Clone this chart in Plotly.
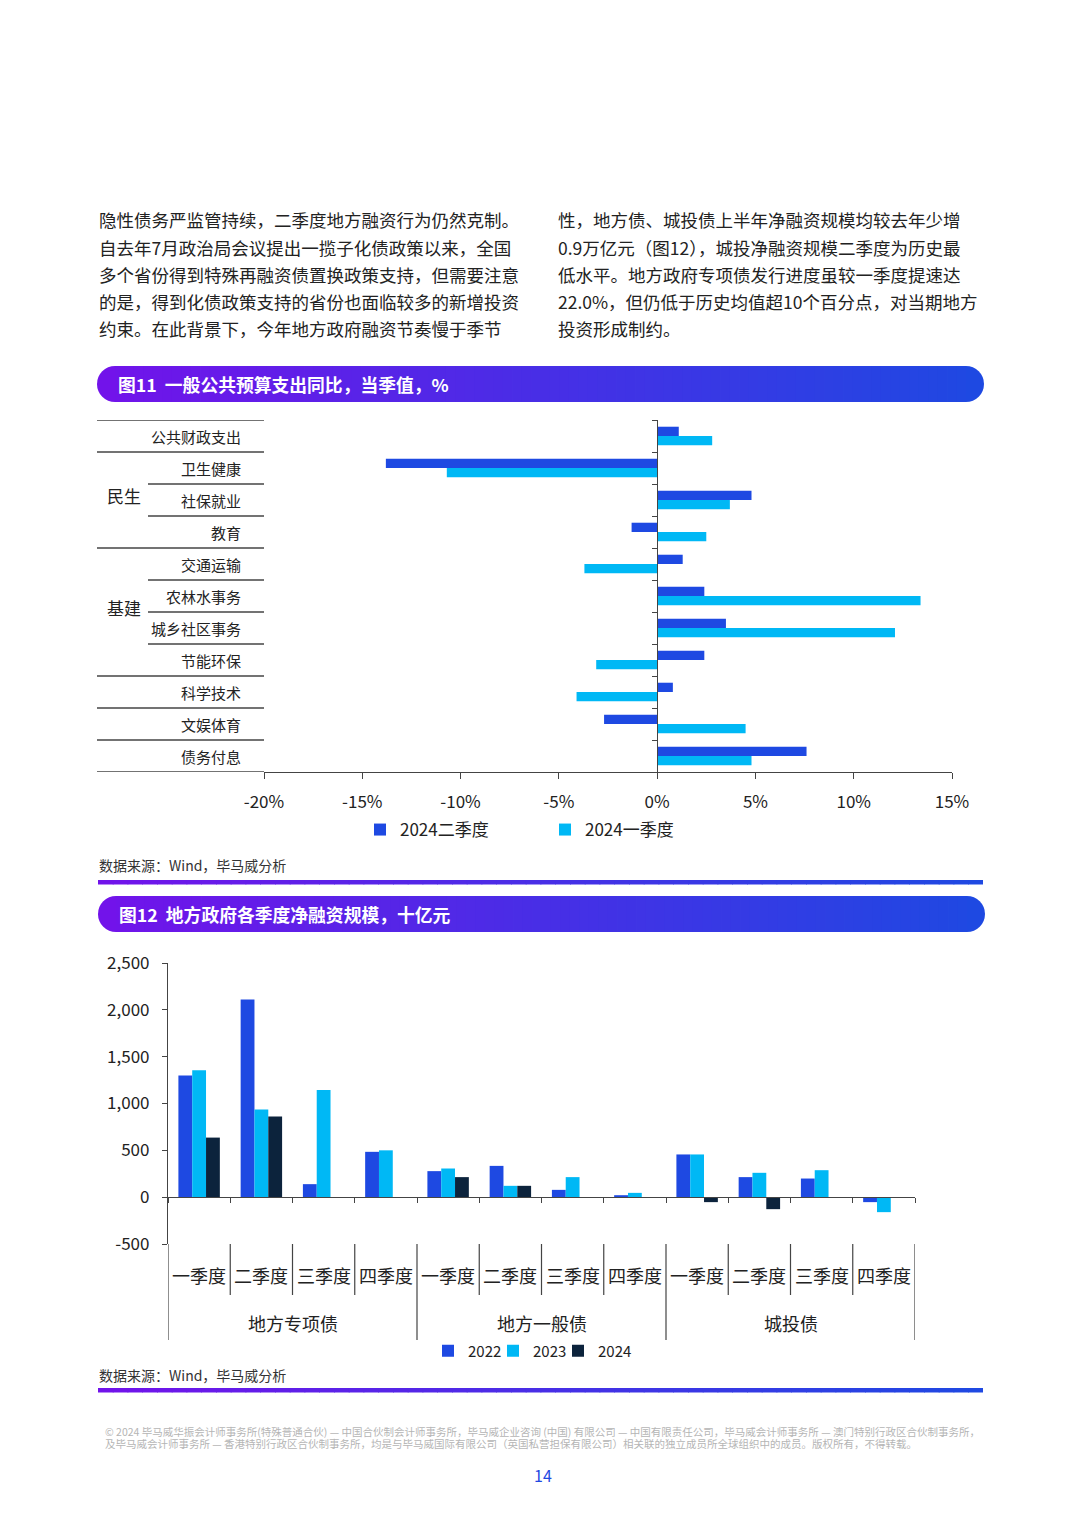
import plotly.graph_objects as go

W, H = 1080, 1516


def px(x):
    return x / W


def py(y):
    return 1 - y / H


# ---------------- Data: Figure 11 ----------------
cats11 = ["公共财政支出", "卫生健康", "社保就业", "教育", "交通运输", "农林水事务",
          "城乡社区事务", "节能环保", "科学技术", "文娱体育", "债务付息"]
q2_2024 = [1.1, -13.8, 4.8, -1.3, 1.3, 2.4, 3.5, 2.4, 0.8, -2.7, 7.6]
q1_2024 = [2.8, -10.7, 3.7, 2.5, -3.7, 13.4, 12.1, -3.1, -4.1, 4.5, 4.8]
series11_names = ["2024二季度", "2024一季度"]
x11_tickvals = [-20, -15, -10, -5, 0, 5, 10, 15]
x11_ticktext = ["-20%", "-15%", "-10%", "-5%", "0%", "5%", "10%", "15%"]
group11_names = ["民生", "基建"]
group11_members = [["卫生健康", "社保就业", "教育"],
                   ["交通运输", "农林水事务", "城乡社区事务", "节能环保"]]

# ---------------- Data: Figure 12 ----------------
bond_types = ["地方专项债", "地方一般债", "城投债"]
quarters = ["一季度", "二季度", "三季度", "四季度"]
v2022 = [1300, 2110, 139, 484, 278, 334, 78, 21, 456, 214, 199, -53]
v2023 = [1355, 935, 1145, 500, 306, 121, 214, 46, 456, 260, 288, -160]
v2024 = [636, 861, None, None, 214, 121, None, None, -53, -128, None, None]
series12_names = ["2022", "2023", "2024"]
y12_tickvals = [-500, 0, 500, 1000, 1500, 2000, 2500]
y12_ticktext = ["-500", "0", "500", "1,000", "1,500", "2,000", "2,500"]

# ---------------- Page text ----------------
para_left = ["隐性债务严监管持续，二季度地方融资行为仍然克制。",
             "自去年7月政治局会议提出一揽子化债政策以来，全国",
             "多个省份得到特殊再融资债置换政策支持，但需要注意",
             "的是，得到化债政策支持的省份也面临较多的新增投资",
             "约束。在此背景下，今年地方政府融资节奏慢于季节"]
para_right = ["性，地方债、城投债上半年净融资规模均较去年少增",
              "0.9万亿元（图12），城投净融资规模二季度为历史最",
              "低水平。地方政府专项债发行进度虽较一季度提速达",
              "22.0%，但仍低于历史均值超10个百分点，对当期地方",
              "投资形成制约。"]
title11 = "图11  一般公共预算支出同比，当季值，%"
title12 = "图12  地方政府各季度净融资规模，十亿元"
source_text = "数据来源：Wind，毕马威分析"
footer1 = ("© 2024 毕马威华振会计师事务所(特殊普通合伙) — 中国合伙制会计师事务所，毕马威企业咨询 (中国) 有限公司 — "
           "中国有限责任公司，毕马威会计师事务所 — 澳门特别行政区合伙制事务所，")
footer2 = ("及毕马威会计师事务所 — 香港特别行政区合伙制事务所，均是与毕马威国际有限公司（英国私营担保有限公司）"
           "相关联的独立成员所全球组织中的成员。版权所有，不得转载。")
page_no = "14"

FONT = "Noto Sans CJK SC, Noto Sans, sans-serif"
C_BLUE = "#1E49E2"
C_LIGHT = "#00B8F5"
C_NAVY = "#0C233C"
TXT = "#222222"

fig = go.Figure()

# ---------------- Figure 11 traces ----------------
fig.add_trace(go.Bar(y=cats11, x=q2_2024, orientation="h", name=series11_names[0],
                     marker=dict(color=C_BLUE, line=dict(width=0)),
                     width=0.29, offset=-0.29, xaxis="x", yaxis="y", legend="legend"))
fig.add_trace(go.Bar(y=cats11, x=q1_2024, orientation="h", name=series11_names[1],
                     marker=dict(color=C_LIGHT, line=dict(width=0)),
                     width=0.29, offset=0.0, xaxis="x", yaxis="y", legend="legend"))

# ---------------- Figure 12 traces ----------------
keys12 = [f"{b}|{q}" for b in bond_types for q in quarters]
bw = 0.222
for i, (vals, name, col, off) in enumerate(zip([v2022, v2023, v2024], series12_names,
                                               [C_BLUE, C_LIGHT, C_NAVY],
                                               [-1.5 * bw, -0.5 * bw, 0.5 * bw])):
    fig.add_trace(go.Bar(x=keys12, y=vals, name=name, width=bw, offset=off,
                         marker=dict(color=col, line=dict(width=0)),
                         xaxis="x2", yaxis="y2", legend="legend2",
                         legendwidth=(45 if i == 2 else 20)))

# ---------------- Axes ----------------
x11_dom = [px(264), px(952)]
x11_range = [-20, 15]
y11_dom = [py(772), py(420)]
zero_pos11 = x11_dom[0] + (0 - x11_range[0]) / (x11_range[1] - x11_range[0]) * (x11_dom[1] - x11_dom[0])

x12_dom = [px(168), px(915)]
y12_dom = [py(1244), py(963)]
y12_range = [-500, 2500]
zero_pos12 = y12_dom[0] + (0 - y12_range[0]) / (y12_range[1] - y12_range[0]) * (y12_dom[1] - y12_dom[0])

axis_col = "#444444"
fig.update_layout(
    xaxis=dict(domain=x11_dom, range=x11_range, anchor="y", tickvals=x11_tickvals,
               ticktext=x11_ticktext, showline=True, linecolor=axis_col, linewidth=1.2,
               ticks="outside", ticklen=6, tickcolor=axis_col, showgrid=False, zeroline=False,
               tickfont=dict(size=17, color=TXT, family=FONT), ticklabelstandoff=8,
               automargin=False),
    yaxis=dict(domain=y11_dom, type="category", categoryarray=cats11, range=[10.5, -0.5],
               anchor="free", position=zero_pos11, showline=True, linecolor=axis_col,
               linewidth=1.2, ticks="outside", tickson="boundaries", ticklen=5,
               tickcolor=axis_col, showticklabels=False, showgrid=False, zeroline=False,
               automargin=False),
    xaxis2=dict(domain=x12_dom, type="category", categoryarray=keys12, range=[-0.5, 11.5],
                anchor="free", position=zero_pos12, showline=True, linecolor=axis_col,
                linewidth=1.2, ticks="outside", tickson="boundaries", ticklen=5,
                tickcolor=axis_col, showticklabels=False, showgrid=False, zeroline=False,
                automargin=False),
    yaxis2=dict(domain=y12_dom, range=y12_range, anchor="x2", tickvals=y12_tickvals,
                ticktext=y12_ticktext, showline=True, linecolor=axis_col, linewidth=1.2,
                ticks="outside", ticklen=5, tickcolor=axis_col, showgrid=False, zeroline=False,
                tickfont=dict(size=17, color=TXT, family=FONT), ticklabelstandoff=9,
                automargin=False),
)

shapes = []
annotations = []


# ---------------- gradient decorations ----------------
def lerp_color(t):
    c0 = (114, 19, 234)
    c1 = (30, 73, 226)
    return "rgb(%d,%d,%d)" % tuple(round(a + (b - a) * t) for a, b in zip(c0, c1))


def gradient_bar(x0, x1, y0, y1, rounded=True, n=90):
    h = y1 - y0
    r = h / 2 if rounded else 0
    if rounded:
        shapes.append(dict(type="circle", xref="paper", yref="paper", x0=px(x0), x1=px(x0 + h),
                           y0=py(y1), y1=py(y0), fillcolor=lerp_color(0), line=dict(width=0),
                           layer="below"))
        shapes.append(dict(type="circle", xref="paper", yref="paper", x0=px(x1 - h), x1=px(x1),
                           y0=py(y1), y1=py(y0), fillcolor=lerp_color(1), line=dict(width=0),
                           layer="below"))
    a0, a1 = x0 + r, x1 - r
    step = (a1 - a0) / n
    for i in range(n):
        a = a0 + i * step
        b = min(a + step + 0.8, a1)
        t = (a + step / 2 - x0) / (x1 - x0)
        shapes.append(dict(type="rect", xref="paper", yref="paper", x0=px(a), x1=px(b),
                           y0=py(y1), y1=py(y0), fillcolor=lerp_color(t), line=dict(width=0),
                           layer="below"))


gradient_bar(97, 984, 366, 402, rounded=True)
gradient_bar(98, 985, 896, 932, rounded=True)
gradient_bar(98, 983, 880, 884.5, rounded=False, n=60)
gradient_bar(98, 983, 1388, 1392.5, rounded=False, n=60)

# ---------------- text ----------------
line_y = [220, 247.5, 274.5, 301.5, 328.5]
for txt, yy in zip(para_left, line_y):
    annotations.append(dict(text=txt, x=px(97), y=py(yy), xref="paper", yref="paper",
                            xanchor="left", yanchor="middle", showarrow=False,
                            font=dict(size=17.5, color=TXT, family=FONT)))
for txt, yy in zip(para_right, line_y):
    annotations.append(dict(text=txt, x=px(556), y=py(yy), xref="paper", yref="paper",
                            xanchor="left", yanchor="middle", showarrow=False,
                            font=dict(size=17.5, color=TXT, family=FONT)))

annotations.append(dict(text="<b>" + title11 + "</b>", x=px(116), y=py(384), xref="paper",
                        yref="paper", xanchor="left", yanchor="middle", showarrow=False,
                        font=dict(size=17.8, color="white", family=FONT)))
annotations.append(dict(text="<b>" + title12 + "</b>", x=px(117), y=py(914), xref="paper",
                        yref="paper", xanchor="left", yanchor="middle", showarrow=False,
                        font=dict(size=17.8, color="white", family=FONT)))
for yy in [865, 1375]:
    annotations.append(dict(text=source_text, x=px(97), y=py(yy), xref="paper", yref="paper",
                            xanchor="left", yanchor="middle", showarrow=False,
                            font=dict(size=14, color="#333333", family=FONT)))
annotations.append(dict(text=footer1, x=px(103), y=py(1431), xref="paper", yref="paper",
                        xanchor="left", yanchor="middle", showarrow=False,
                        font=dict(size=10.5, color="#b5b5b5", family=FONT)))
annotations.append(dict(text=footer2, x=px(103), y=py(1443), xref="paper", yref="paper",
                        xanchor="left", yanchor="middle", showarrow=False,
                        font=dict(size=10.5, color="#b5b5b5", family=FONT)))
annotations.append(dict(text=page_no, x=px(543), y=py(1475), xref="paper", yref="paper",
                        xanchor="center", yanchor="middle", showarrow=False,
                        font=dict(size=16, color=C_BLUE, family=FONT)))

# ---------------- Figure 11 table ----------------
tbl_col = "#444444"
n11 = len(cats11)
grouped = {c: gi for gi, mem in enumerate(group11_members) for c in mem}
for b in range(n11 + 1):
    pos = b - 0.5
    above = cats11[b - 1] if b > 0 else None
    below = cats11[b] if b < n11 else None
    inner = (above in grouped and below in grouped and grouped[above] == grouped[below])
    x_start = px(148) if inner else px(97)
    shapes.append(dict(type="line", xref="paper", yref="y", x0=x_start, x1=x11_dom[0],
                       y0=pos, y1=pos, line=dict(color=tbl_col, width=1.5)))
for c in cats11:
    annotations.append(dict(text=c, x=px(243), y=c, xref="paper", yref="y", xanchor="right",
                            yanchor="middle", showarrow=False,
                            font=dict(size=15, color=TXT, family=FONT)))
for gname, mem in zip(group11_names, group11_members):
    idx = [cats11.index(m) for m in mem]
    mid = (min(idx) + max(idx)) / 2
    annotations.append(dict(text=gname, x=px(124), y=mid - 0.15, xref="paper", yref="y",
                            xanchor="center", yanchor="middle", showarrow=False,
                            font=dict(size=17, color=TXT, family=FONT)))

# ---------------- Figure 12 category labels & separators ----------------
n12 = len(keys12)
for b in range(n12 + 1):
    pos = b - 0.5
    long_line = (b % len(quarters) == 0)
    L = 96 if long_line else 51
    shapes.append(dict(type="line", xref="x2", yref="paper", ysizemode="pixel",
                       yanchor=y12_dom[0], x0=pos, x1=pos, y0=0, y1=-L,
                       line=dict(color=axis_col, width=1.2)))
for i, k in enumerate(keys12):
    annotations.append(dict(text=k.split("|")[1], x=i, y=y12_range[0], xref="x2", yref="y2",
                            yshift=-31, xanchor="center", yanchor="middle", showarrow=False,
                            font=dict(size=18, color=TXT, family=FONT)))
for gi, bname in enumerate(bond_types):
    mid = gi * len(quarters) + (len(quarters) - 1) / 2
    annotations.append(dict(text=bname, x=mid, y=y12_range[0], xref="x2", yref="y2",
                            yshift=-79, xanchor="center", yanchor="middle", showarrow=False,
                            font=dict(size=18, color=TXT, family=FONT)))

fig.update_layout(
    width=W, height=H, margin=dict(l=0, r=0, t=0, b=0, autoexpand=False),
    paper_bgcolor="white", plot_bgcolor="white",
    font=dict(family=FONT, color=TXT),
    barmode="group",
    showlegend=True,
    legend=dict(orientation="h", x=px(360), y=py(830), xanchor="left", yanchor="middle",
                font=dict(size=17, color=TXT, family=FONT), entrywidth=140,
                entrywidthmode="pixels", bgcolor="rgba(0,0,0,0)", traceorder="normal"),
    legend2=dict(orientation="h", x=px(428), y=py(1351), xanchor="left", yanchor="middle",
                 font=dict(size=15, color=TXT, family=FONT), entrywidth=20,
                 entrywidthmode="pixels", bgcolor="rgba(0,0,0,0)", traceorder="normal"),
    shapes=shapes,
    annotations=annotations,
)

css_fix = (
    "var st=document.createElement('style');"
    "st.innerHTML='html,body{margin:0!important;padding:0!important;overflow:hidden!important;}';"
    "document.head.appendChild(st);"
)
fig.write_html("out.html", post_script=css_fix,
               config={"displayModeBar": False, "responsive": False})
